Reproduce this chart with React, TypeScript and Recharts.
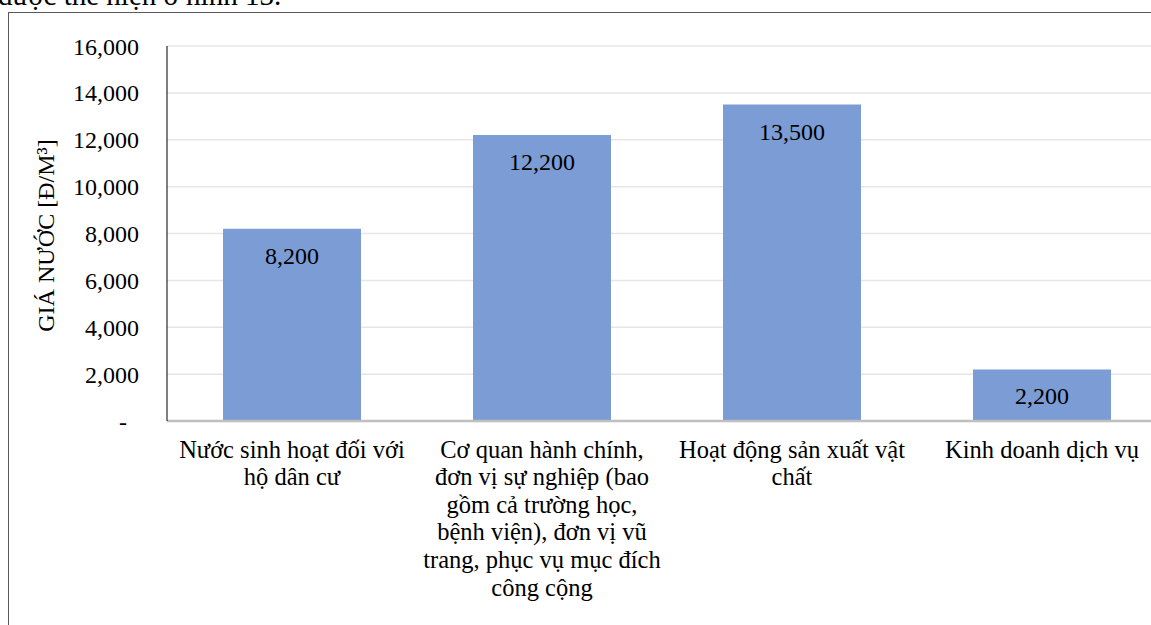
import { BarChart, Bar, XAxis, YAxis, CartesianGrid, LabelList } from "recharts";

const FONT = '"Liberation Serif", "Times New Roman", serif';

// Categories (full names) and how they wrap under the axis
const categories = [
  "Nước sinh hoạt đối với hộ dân cư",
  "Cơ quan hành chính, đơn vị sự nghiệp (bao gồm cả trường học, bệnh viện), đơn vị vũ trang, phục vụ mục đích công cộng",
  "Hoạt động sản xuất vật chất",
  "Kinh doanh dịch vụ",
];
const categoryLines = [
  ["Nước sinh hoạt đối với", "hộ dân cư"],
  [
    "Cơ quan hành chính,",
    "đơn vị sự nghiệp (bao",
    "gồm cả trường học,",
    "bệnh viện), đơn vị vũ",
    "trang, phục vụ mục đích",
    "công cộng",
  ],
  ["Hoạt động sản xuất vật", "chất"],
  ["Kinh doanh dịch vụ"],
];

// Water price, VND per m3
const prices = [8200, 12200, 13500, 2200];

const yTicks = [0, 2000, 4000, 6000, 8000, 10000, 12000, 14000, 16000];

const yAxisTitle = "GIÁ NƯỚC [Đ/M³]";

const chartData = categories.map((name, i) => ({ name, price: prices[i] }));

// Excel accounting style: zero shows as a dash
const formatPrice = (v: number) => (v === 0 ? "-\u00a0\u00a0" : v.toLocaleString("en-US"));

function CategoryTick(props: any) {
  const { x, y, payload } = props;
  const idx = categories.indexOf(payload.value);
  const lines = idx >= 0 ? categoryLines[idx] : [String(payload.value)];
  return (
    <text x={x} y={y} textAnchor="middle" fontSize={24.5} fontFamily={FONT} fill="#000">
      {lines.map((line, i) => (
        <tspan key={i} x={x} dy={i === 0 ? 36.5 : 27.6}>
          {line}
        </tspan>
      ))}
    </text>
  );
}

export default function App() {
  return (
    <div
      style={{
        position: "fixed",
        left: 0,
        top: 0,
        width: 1151,
        height: 625,
        overflow: "hidden",
        background: "#fff",
        fontFamily: FONT,
      }}
    >
      {/* cut-off line of document text above the figure */}
      <div
        style={{
          position: "absolute",
          left: -2,
          top: -19,
          fontSize: 29,
          lineHeight: "29px",
          whiteSpace: "nowrap",
          color: "#000",
        }}
      >
        được thể hiện ở hình 13.
      </div>

      {/* chart area frame (runs past the right and bottom edges) */}
      <div
        style={{
          position: "absolute",
          left: 8,
          top: 12,
          width: 1300,
          height: 800,
          border: "1px solid #595959",
        }}
      />

      <div style={{ position: "absolute", left: 0, top: 0 }}>
        <BarChart
          width={1200}
          height={625}
          data={chartData}
          margin={{ top: 46, right: 33, bottom: 14, left: 0 }}
          barCategoryGap="22.4%"
        >
          <CartesianGrid vertical={false} stroke="#e6e6e6" strokeWidth={1.5} />
          <XAxis
            dataKey="name"
            height={190}
            interval={0}
            tickLine={false}
            tickSize={0}
            tickMargin={0}
            axisLine={{ stroke: "#bfbfbf", strokeWidth: 2.5 }}
            tick={<CategoryTick />}
          />
          {/* top edge of the plot area */}
          <XAxis
            xAxisId="top"
            orientation="top"
            dataKey="name"
            height={0}
            tick={false}
            tickLine={false}
            axisLine={{ stroke: "#000", strokeWidth: 1 }}
          />
          <YAxis
            width={167}
            domain={[0, 16000]}
            ticks={yTicks}
            interval={0}
            tickFormatter={formatPrice}
            tickLine={false}
            tickSize={0}
            tickMargin={28}
            axisLine={{ stroke: "#000", strokeWidth: 1 }}
            tick={{ fill: "#000", fontSize: 24, fontFamily: FONT }}
            label={{
              content: ({ viewBox }: any) => {
                const cx = viewBox.x + 46;
                const cy = viewBox.y + viewBox.height / 2 + 2;
                return (
                  <text
                    x={cx}
                    y={cy}
                    transform={`rotate(-90, ${cx}, ${cy})`}
                    textAnchor="middle"
                    dominantBaseline="central"
                    fontSize={24}
                    fontFamily={FONT}
                    fill="#000"
                  >
                    {yAxisTitle}
                  </text>
                );
              },
            }}
          />
          <Bar dataKey="price" fill="#7b9cd4" isAnimationActive={false}>
            <LabelList
              dataKey="price"
              position="insideTop"
              offset={18}
              formatter={(v: any) => Number(v).toLocaleString("en-US")}
              style={{ fill: "#000", fontSize: 24, fontFamily: FONT }}
            />
          </Bar>
        </BarChart>
      </div>
    </div>
  );
}
